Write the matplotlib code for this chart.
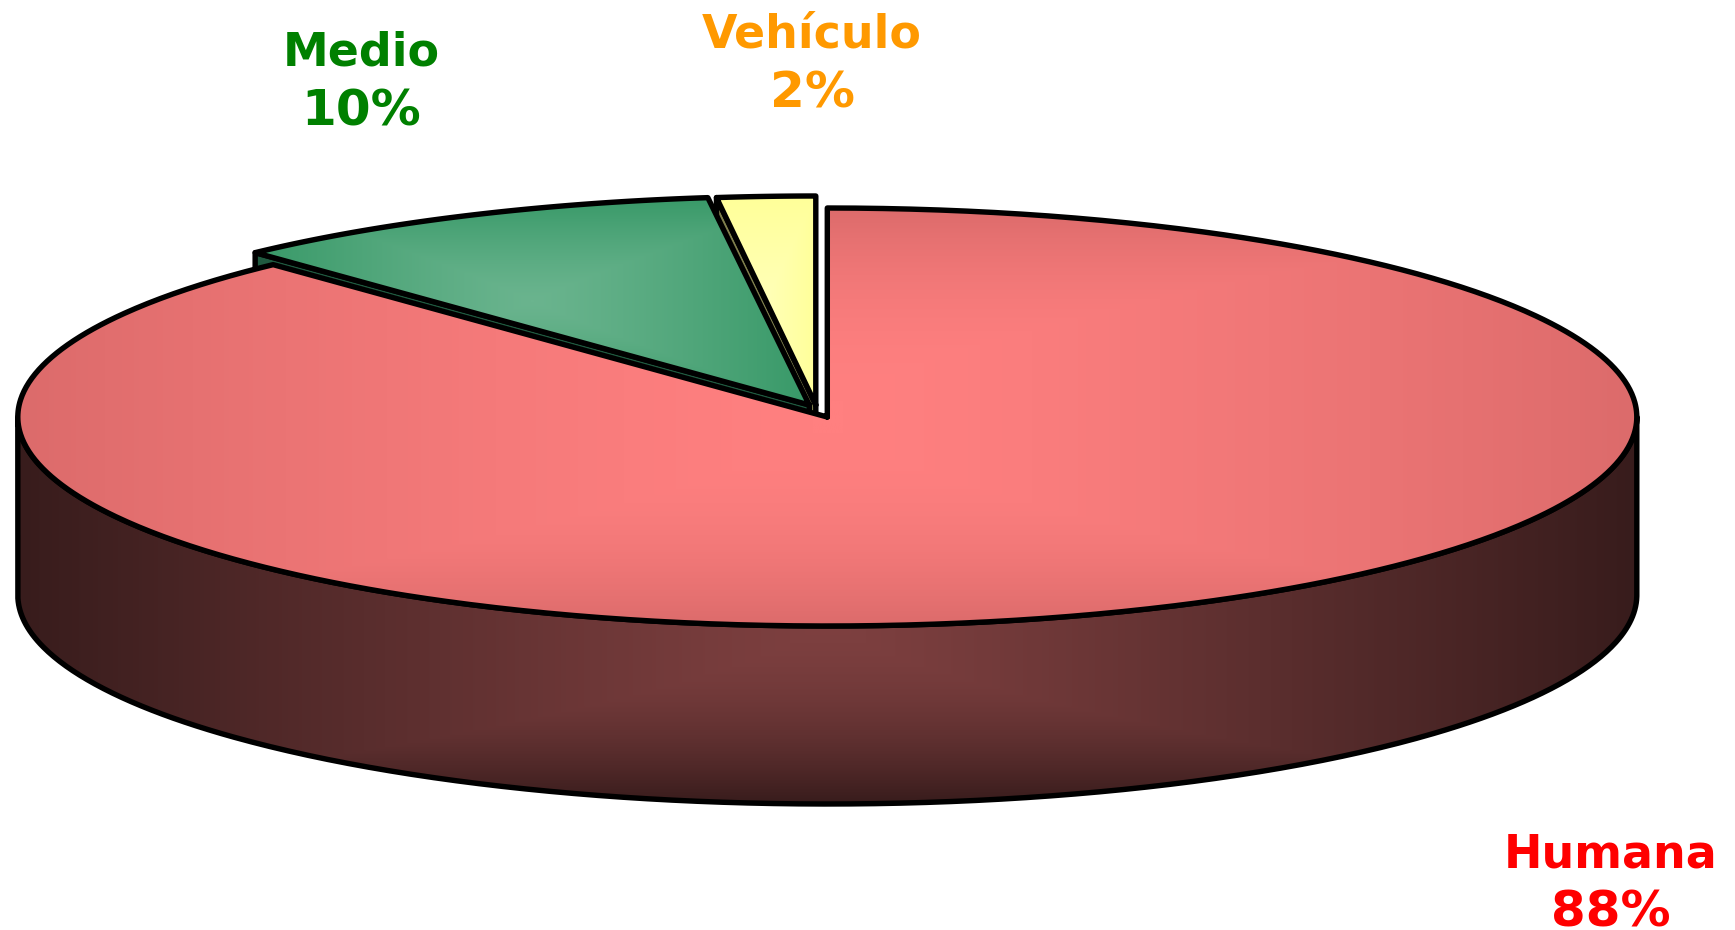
import numpy as np
import matplotlib
matplotlib.use("Agg")
import matplotlib.pyplot as plt
from matplotlib.patches import PathPatch
from matplotlib.path import Path
from matplotlib.colors import LinearSegmentedColormap

categories = ["Humana", "Medio", "Vehículo"]
values = [88, 10, 2]
label_colors = ["#FF0000", "#008000", "#FF9900"]

CX, CY, RX, RY, DEPTH = 827.3, 417.0, 809.5, 209.0, 178.0
LW = 3.9

fig = plt.figure(figsize=(17.35, 9.3), dpi=100, facecolor="white")
ax = fig.add_axes([0, 0, 1, 1])
ax.set_xlim(0, 1735)
ax.set_ylim(930, 0)
ax.axis("off")


def arc_pts(a0, a1, cx, cy, n=300):
    # angles measured clockwise from the top of the pie, in degrees
    t = np.radians(np.linspace(a0, a1, n))
    return np.column_stack([cx + RX * np.sin(t), cy - RY * np.cos(t)])


def gradient_fill(pts, c_edge, c_mid, bbox=None, px=1.0, py=1.0, z=1):
    path = Path(np.vstack([pts, pts[0]]), closed=False)
    patch = PathPatch(path, facecolor="none", edgecolor="none", transform=ax.transData)
    ax.add_patch(patch)
    x0, y0 = pts.min(axis=0)
    x1, y1 = pts.max(axis=0)
    if bbox is not None:
        x0, y0, x1, y1 = bbox
    xs = np.linspace(-1, 1, 500)
    ys = np.linspace(-1, 1, 300)
    xx, yy = np.meshgrid(xs, ys)
    t = np.maximum(np.abs(xx) ** px, np.abs(yy) ** py)
    cmap = LinearSegmentedColormap.from_list("g", [c_mid, c_edge])
    im = ax.imshow(t, cmap=cmap, vmin=0, vmax=1, extent=(x0, x1, y1, y0),
                   aspect="auto", zorder=z, interpolation="bilinear")
    im.set_clip_path(patch)
    ax.set_xlim(0, 1735)
    ax.set_ylim(930, 0)


def outline(pts, z, closed=True):
    p = np.vstack([pts, pts[0]]) if closed else pts
    ax.add_patch(PathPatch(Path(p, closed=False), facecolor="none", edgecolor="black", lw=LW,
                           joinstyle="round", capstyle="round", zorder=z))


# slice sweep angles read from the values (clockwise from the top)
fracs = np.array(values, dtype=float) / sum(values) * 360.0
a_red_end = fracs[0]
a_med_end = a_red_end + fracs[1]
a_veh_end = a_med_end + fracs[2]

# Vehículo, pulled out
vx, vy = CX - 11.5, CY - 12.0
veh_top = np.vstack([[vx, vy], arc_pts(a_med_end + 0.15, a_veh_end, vx, vy, 40)])
edge = arc_pts(a_med_end + 0.15, a_med_end + 0.15, vx, vy, 1)[0]
veh_side = np.array([[vx, vy], edge, edge + [0, DEPTH], [vx, vy + DEPTH]])
ax.add_patch(PathPatch(Path(np.vstack([veh_side, veh_side[0]])), facecolor="#7F7F4D",
                       edgecolor="black", lw=LW, joinstyle="round", zorder=2))
gradient_fill(veh_top, "#FFFF99", "#FFFFB8", z=3)
outline(veh_top, 4)

# Medio, pulled out
mx, my = CX - 18.0, CY - 12.0
med_top = np.vstack([[mx, my], arc_pts(a_red_end, a_med_end, mx, my, 80)])
edge = arc_pts(a_red_end, a_red_end, mx, my, 1)[0]
med_side = np.array([[mx, my], edge, edge + [0, DEPTH], [mx, my + DEPTH]])
ax.add_patch(PathPatch(Path(np.vstack([med_side, med_side[0]])), facecolor="#205A40",
                       edgecolor="black", lw=LW, joinstyle="round", zorder=5))
gradient_fill(med_top, "#389968", "#6AB48E", px=1.2, py=1.3, z=6)
outline(med_top, 7)

# Humana: side wall
front = arc_pts(90, 270, CX, CY, 400)
side = np.vstack([front, (front + [0, DEPTH])[::-1]])
gradient_fill(side, "#381C1C", "#7E4040",
              bbox=(CX - RX, CY, CX + RX, CY + RY + DEPTH), px=1.15, py=2.0, z=8)
outline(side, 9)

# Humana: top
red_top = np.vstack([[CX, CY], arc_pts(0, a_red_end, CX, CY, 800)])
gradient_fill(red_top, "#DC6B6B", "#FF8080",
              bbox=(CX - RX, CY - RY, CX + RX, CY + RY), px=1.4, py=2.2, z=10)
outline(red_top, 11)

# labels: name line and value line, on their own baselines
name_xy = [(1611, 867), (361, 66), (812, 48)]
value_xy = [(1611, 926), (361, 125), (812, 107)]
for name, val, col, (nx, ny), (px_, py_) in zip(categories, values, label_colors, name_xy, value_xy):
    ax.text(nx, ny, name, color=col, ha="center", va="baseline",
            fontsize=33, fontweight="bold", family="DejaVu Sans", zorder=20)
    ax.text(px_, py_, f"{val}%", color=col, ha="center", va="baseline",
            fontsize=36, fontweight="bold", family="DejaVu Sans", zorder=20)

fig.savefig("out.png", dpi=100, facecolor="white")
